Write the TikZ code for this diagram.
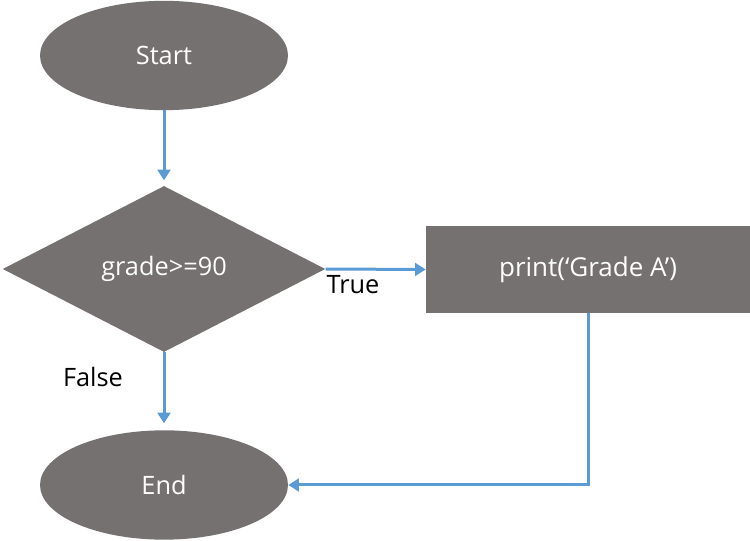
\documentclass[tikz,border=0pt]{standalone}
\usepackage{fontspec}
\setmainfont{Open Sans}
\usepackage{tikz}
\usetikzlibrary{shapes.geometric,arrows.meta,positioning}

\definecolor{boxgray}{HTML}{767171}
\definecolor{flowblue}{HTML}{5B9BD5}

\tikzset{
  terminal/.style={ellipse,fill=boxgray,text=white,inner sep=0pt,
    minimum width=186pt,minimum height=82pt,font=\fontsize{19}{22}\selectfont},
  decision/.style={diamond,fill=boxgray,text=white,inner sep=0pt,
    minimum width=242pt,minimum height=124.5pt,font=\fontsize{19}{22}\selectfont},
  process/.style={rectangle,fill=boxgray,text=white,inner sep=0pt,
    minimum width=243pt,minimum height=65.5pt,font=\fontsize{19.5}{22}\selectfont},
  flow/.style={draw=flowblue,line width=2.25pt,
    -{Triangle[width=9.5pt,length=8pt]}},
  branch/.style={text=black,inner sep=0pt,font=\fontsize{19}{22}\selectfont}
}

\begin{document}
\begin{tikzpicture}
    [line join=miter,x=0.75pt,y=-0.75pt]
\useasboundingbox (0,0) rectangle (750,541);
%shapes
\node[terminal] (start) at (164,55.5) {Start};
\node[decision] (grade) at (164,269) {grade>=90};
\node[process] (gradeA) at (588,269.5) {print(‘Grade A’)};
\node[terminal] (end) at (164,485) {End};

%branch labels
\node[branch] (truelab) at (353,285) {True};
\node[branch] (falselab) at (93,377) {False};

%connectors
\draw[flow,shorten >=4pt] (start) -- (grade);
\draw[flow] (grade.east) -- (gradeA.west);
\draw[flow,shorten >=5pt] (grade) -- (end);
\draw[flow] (gradeA.south) |- (end.east);

\end{tikzpicture}
\end{document}
